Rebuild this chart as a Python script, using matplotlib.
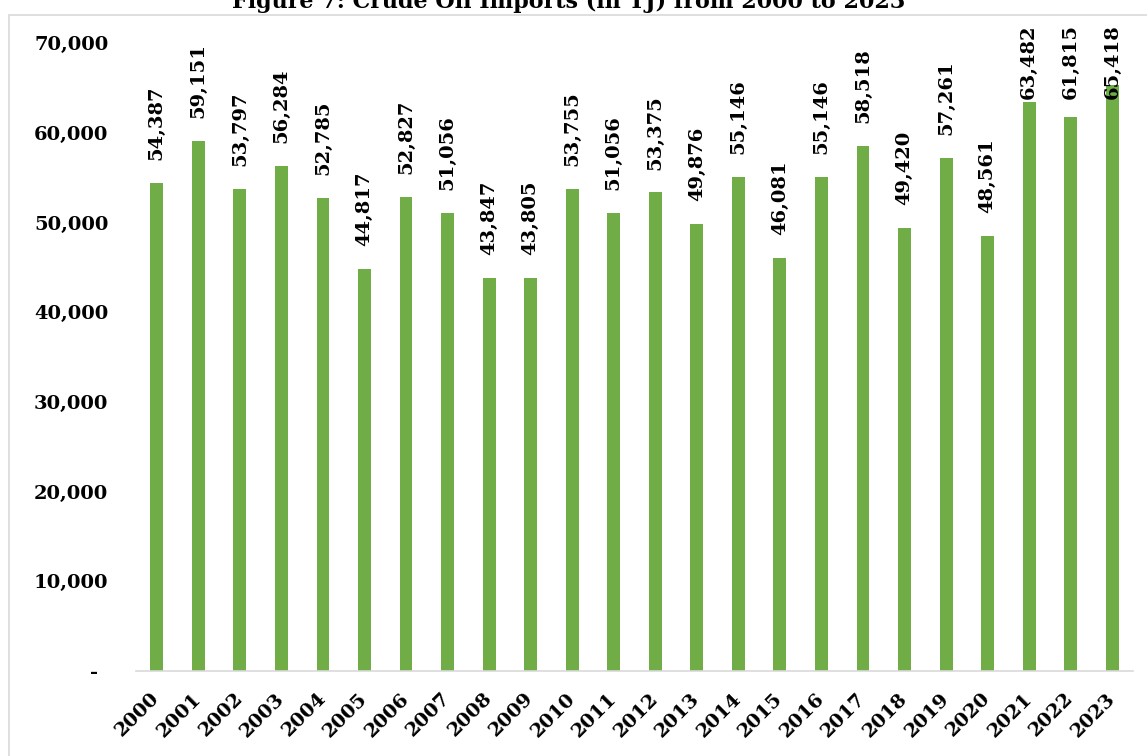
import numpy as np
import matplotlib
matplotlib.use("Agg")
import matplotlib.pyplot as plt
from matplotlib.patches import Rectangle
from matplotlib.ticker import FuncFormatter

years = [str(y) for y in range(2000, 2024)]
imports_tj = [54387, 59151, 53797, 56284, 52785, 44817, 52827, 51056, 43847, 43805,
              53755, 51056, 53375, 49876, 55146, 46081, 55146, 58518, 49420, 57261,
              48561, 63482, 61815, 65418]
y_ticks = [0, 10000, 20000, 30000, 40000, 50000, 60000, 70000]
title = "Figure 7: Crude Oil Imports (in TJ) from 2000 to 2023"

bar_color = "#70AD47"
line_gray = "#D9D9D9"
plt.rcParams["font.family"] = ["DejaVu Serif"]
plt.rcParams["font.weight"] = "bold"

fig = plt.figure(figsize=(11.47, 7.56), dpi=100)
ax = fig.add_axes([0.1186, 0.1128, 0.8692, 0.8297])

x = np.arange(len(years))
ax.bar(x, imports_tj, width=0.31, color=bar_color, zorder=2)

ax.set_xlim(-0.5, len(years) - 0.5)
ax.set_ylim(0, 70000)
ax.set_yticks(y_ticks)
ax.yaxis.set_major_formatter(FuncFormatter(lambda v, p: "- \u2009" if v == 0 else f"{int(v):,}"))
ax.set_xticks(x)
ax.set_xticklabels(years, rotation=45, ha="right", va="center", rotation_mode="anchor")
ax.tick_params(axis="x", length=0, pad=18, labelsize=14)
ax.tick_params(axis="y", length=0, pad=20, labelsize=14)
for lbl in ax.get_xticklabels() + ax.get_yticklabels():
    lbl.set_fontweight("bold")

for s in ["top", "right", "left"]:
    ax.spines[s].set_visible(False)
ax.spines["bottom"].set_color(line_gray)
ax.spines["bottom"].set_linewidth(1.2)

# value labels above the bars, pushed down when they would run past the top
labels = []
for i, v in enumerate(imports_tj):
    t = ax.annotate(f"{v:,}", xy=(i, v), xytext=(0, 16.5), textcoords="offset points",
                    rotation=90, ha="center", va="bottom", fontsize=14,
                    fontweight="bold", annotation_clip=False)
    labels.append(t)

fig.canvas.draw()
limit = ax.transAxes.transform((0, 1))[1] + 19
for i, t in enumerate(labels):
    bb = t.get_window_extent()
    if bb.y1 > limit:
        t.xy = (i, 1.0)
        t.xycoords = ax.get_xaxis_transform()
        t.set_position((0, 13.7))
        t.set_va("top")

fig.text(0.496, 1 - 8 / 756, title, ha="center", va="baseline",
         fontsize=16, fontweight="bold")

fig.add_artist(Rectangle((9 / 1147, -0.2), 1.5, 1.2 - 15 / 756, transform=fig.transFigure,
                         fill=False, edgecolor=line_gray, linewidth=1.2))

fig.savefig("out.png", dpi=100)
